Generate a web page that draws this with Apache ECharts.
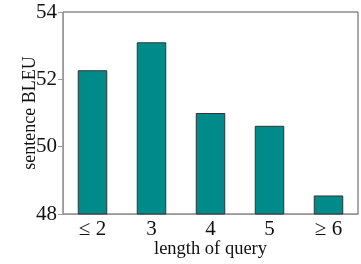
<!DOCTYPE html>
<html>
<head>
<meta charset="utf-8">
<script src="https://cdn.jsdelivr.net/npm/echarts@6/dist/echarts.min.js"></script>
<style>
html, body { margin: 0; padding: 0; background: #fff; }
#chart { width: 361px; height: 264px; }
</style>
</head>
<body>
<div id="chart"></div>
<script>
var categories = ['≤ 2', '3', '4', '5', '≥ 6'];
var bleu = [52.27, 53.1, 51.0, 50.62, 48.55];
var yTicks = [48, 50, 52, 54];

var serif = '"Liberation Serif", "DejaVu Serif", serif';
var chart = echarts.init(document.getElementById('chart'));
var option = {
    animation: false,
    grid: {
        left: 63, right: 3, top: 12, bottom: 50,
        outerBoundsMode: 'none',
        show: true, borderColor: '#555', borderWidth: 1
    },
    xAxis: {
        type: 'category',
        data: categories,
        name: 'length of query',
        nameLocation: 'middle',
        nameGap: 26,
        nameMoveOverlap: false,
        nameTextStyle: { fontFamily: serif, fontSize: 18.5, color: '#111' },
        axisLine: { lineStyle: { color: '#999', width: 1 } },
        axisTick: { alignWithLabel: true, length: 5, lineStyle: { color: '#999' } },
        axisLabel: { fontFamily: serif, fontSize: 21, color: '#111', margin: 5 }
    },
    yAxis: {
        type: 'value',
        min: yTicks[0],
        max: yTicks[yTicks.length - 1],
        interval: 2,
        name: 'sentence BLEU',
        nameLocation: 'middle',
        nameGap: 24,
        nameMoveOverlap: false,
        nameTextStyle: { fontFamily: serif, fontSize: 18, color: '#111' },
        splitLine: { show: false },
        axisLine: { show: true, lineStyle: { color: '#999', width: 1 } },
        axisTick: { show: true, length: 5, lineStyle: { color: '#999' } },
        axisLabel: { fontFamily: serif, fontSize: 21, color: '#111', margin: 6 }
    },
    series: [{
        type: 'bar',
        data: bleu,
        barWidth: '50%',
        itemStyle: { color: '#008B8B', borderColor: '#333', borderWidth: 1 }
    }]
};
chart.setOption(option);
</script>
</body>
</html>
